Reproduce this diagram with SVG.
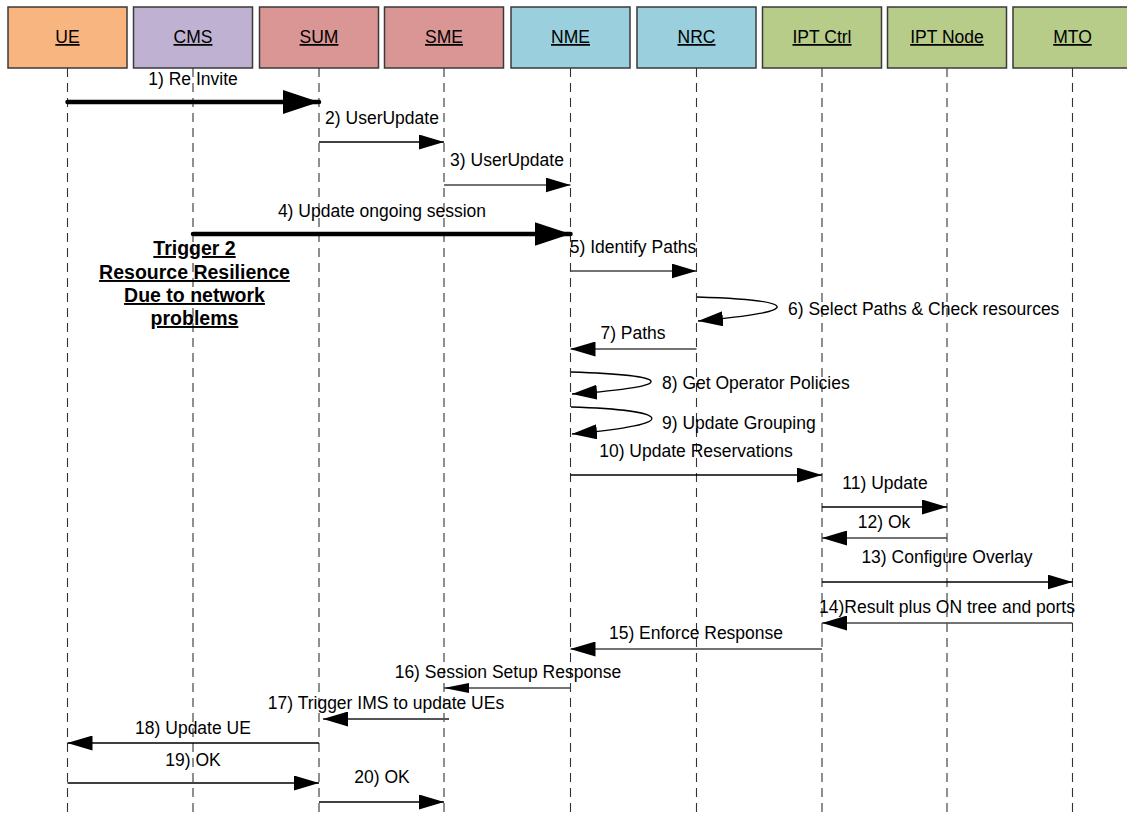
<svg xmlns="http://www.w3.org/2000/svg" width="1127" height="818" viewBox="0 0 1127 818">
<style>
.box{stroke:#3a3a3a;stroke-width:1.5}
.hd{font-family:"Liberation Sans",Arial,sans-serif;font-size:17.5px;text-anchor:middle;text-decoration:underline;fill:#000}
.life{stroke:#333;stroke-width:1.1;stroke-dasharray:9,6;fill:none}
.msg{stroke:#000;stroke-width:1.3;fill:none;marker-end:url(#ah)}
.gr{stroke:#444}
.thick{stroke:#000;stroke-width:4.5;stroke-linecap:round;fill:none;marker-end:url(#ahb)}
.lbl{font-family:"Liberation Sans",Arial,sans-serif;font-size:17.5px;text-anchor:middle;fill:#000}
.st{text-anchor:start}
.note{font-family:"Liberation Sans",Arial,sans-serif;font-size:19.5px;font-weight:bold;text-anchor:middle;text-decoration:underline;fill:#000}
</style>
<defs>
<marker id="ah" markerUnits="userSpaceOnUse" markerWidth="25" markerHeight="15" refX="25" refY="7.5" orient="auto"><path d="M0,0 L25,7.5 L0,15 z" fill="#000"/></marker>
<marker id="ahb" markerUnits="userSpaceOnUse" markerWidth="36" markerHeight="24" refX="36" refY="12" orient="auto"><path d="M0,0 L36,12 L0,24 z" fill="#000"/></marker>
<marker id="ahs" markerUnits="userSpaceOnUse" markerWidth="25" markerHeight="10" refX="25" refY="5" orient="auto"><path d="M0,0 L25,5 L0,10 z" fill="#000"/></marker>
</defs>
<rect width="1127" height="818" fill="#fff"/>

<g id="lifelines">
<line class="life" x1="67.5" y1="68" x2="67.5" y2="818"/>
<line class="life" x1="193" y1="68" x2="193" y2="818"/>
<line class="life" x1="319" y1="68" x2="319" y2="818"/>
<line class="life" x1="444" y1="68" x2="444" y2="818"/>
<line class="life" x1="570.5" y1="68" x2="570.5" y2="818"/>
<line class="life" x1="696.5" y1="68" x2="696.5" y2="818"/>
<line class="life" x1="822" y1="68" x2="822" y2="818"/>
<line class="life" x1="947" y1="68" x2="947" y2="818"/>
<line class="life" x1="1072.5" y1="68" x2="1072.5" y2="818"/>
</g>

<g id="UE"><rect class="box" x="8" y="7" width="119" height="61" fill="#F9B57F"/><text class="hd" x="67.5" y="43">UE</text></g>
<g id="CMS"><rect class="box" x="133.5" y="7" width="119" height="61" fill="#BFB1D1"/><text class="hd" x="193" y="43">CMS</text></g>
<g id="SUM"><rect class="box" x="259.5" y="7" width="119" height="61" fill="#D99694"/><text class="hd" x="319" y="43">SUM</text></g>
<g id="SME"><rect class="box" x="384.5" y="7" width="119" height="61" fill="#D99694"/><text class="hd" x="444" y="43">SME</text></g>
<g id="NME"><rect class="box" x="511" y="7" width="119" height="61" fill="#9AD0DD"/><text class="hd" x="570.5" y="43">NME</text></g>
<g id="NRC"><rect class="box" x="637" y="7" width="119" height="61" fill="#9AD0DD"/><text class="hd" x="696.5" y="43">NRC</text></g>
<g id="IPTCtrl"><rect class="box" x="762.5" y="7" width="119" height="61" fill="#B7CC89"/><text class="hd" x="822" y="43">IPT Ctrl</text></g>
<g id="IPTNode"><rect class="box" x="887.5" y="7" width="119" height="61" fill="#B7CC89"/><text class="hd" x="947" y="43">IPT Node</text></g>
<g id="MTO"><rect class="box" x="1013" y="7" width="119" height="61" fill="#B7CC89"/><text class="hd" x="1072.5" y="43">MTO</text></g>

<g id="trigger-note">
<text class="note" x="194.5" y="255">Trigger 2</text>
<text class="note" x="194.5" y="279">Resource Resilience</text>
<text class="note" x="194.5" y="302">Due to network</text>
<text class="note" x="194.5" y="325">problems</text>
</g>

<g id="connectors">
<line class="thick" x1="67.5" y1="102" x2="319" y2="102"/>
<line class="msg" x1="319" y1="142" x2="444" y2="142"/>
<line class="msg gr" x1="444" y1="185" x2="570.5" y2="185"/>
<line class="thick" x1="193" y1="234" x2="570.5" y2="234"/>
<line class="msg gr" x1="570.5" y1="271" x2="696.5" y2="271"/>
<path class="msg" d="M697,297 C795,300 812,311 698,321"/>
<line class="msg gr" x1="696.5" y1="349" x2="570.5" y2="349"/>
<path class="msg" d="M571,372 C670,375 685,386 572,394"/>
<path class="msg" d="M571,407 C670,410 687,424 572,434"/>
<line class="msg" x1="570.5" y1="475" x2="822" y2="475"/>
<line class="msg" x1="822" y1="507" x2="947" y2="507"/>
<line class="msg gr" x1="947" y1="538" x2="822" y2="538"/>
<line class="msg" x1="822" y1="582" x2="1072.5" y2="582"/>
<line class="msg gr" x1="1072.5" y1="623" x2="822" y2="623"/>
<line class="msg gr" x1="822" y1="649" x2="570.5" y2="649"/>
<line class="msg gr" x1="570.5" y1="688" x2="444" y2="688" style="marker-end:url(#ahs)"/>
<line class="msg gr" x1="449" y1="719" x2="323" y2="719" style="stroke:#555;stroke-width:2"/>
<line class="msg" x1="319" y1="743" x2="67.5" y2="743"/>
<line class="msg" x1="67.5" y1="783" x2="319" y2="783"/>
<line class="msg" x1="319" y1="802" x2="444" y2="802"/>
</g>

<g id="labels">
<text class="lbl" x="193" y="85">1) Re Invite</text>
<text class="lbl" x="382" y="124">2) UserUpdate</text>
<text class="lbl" x="507" y="166">3) UserUpdate</text>
<text class="lbl" x="382" y="217">4) Update ongoing session</text>
<text class="lbl" x="633" y="253">5) Identify Paths</text>
<text class="lbl st" x="788" y="315">6) Select Paths &amp; Check resources</text>
<text class="lbl" x="633" y="339">7) Paths</text>
<text class="lbl st" x="662" y="389">8) Get Operator Policies</text>
<text class="lbl st" x="662" y="429">9) Update Grouping</text>
<text class="lbl" x="696" y="457">10) Update Reservations</text>
<text class="lbl" x="885" y="489">11) Update</text>
<text class="lbl" x="884" y="528">12) Ok</text>
<text class="lbl" x="947" y="563">13) Configure Overlay</text>
<text class="lbl" x="947" y="613">14)Result plus ON tree and ports</text>
<text class="lbl" x="696" y="639">15) Enforce Response</text>
<text class="lbl" x="508" y="678">16) Session Setup Response</text>
<text class="lbl" x="386" y="709">17) Trigger IMS to update UEs</text>
<text class="lbl" x="193" y="734">18) Update UE</text>
<text class="lbl" x="193" y="766">19) OK</text>
<text class="lbl" x="382" y="783">20) OK</text>
</g>
</svg>
